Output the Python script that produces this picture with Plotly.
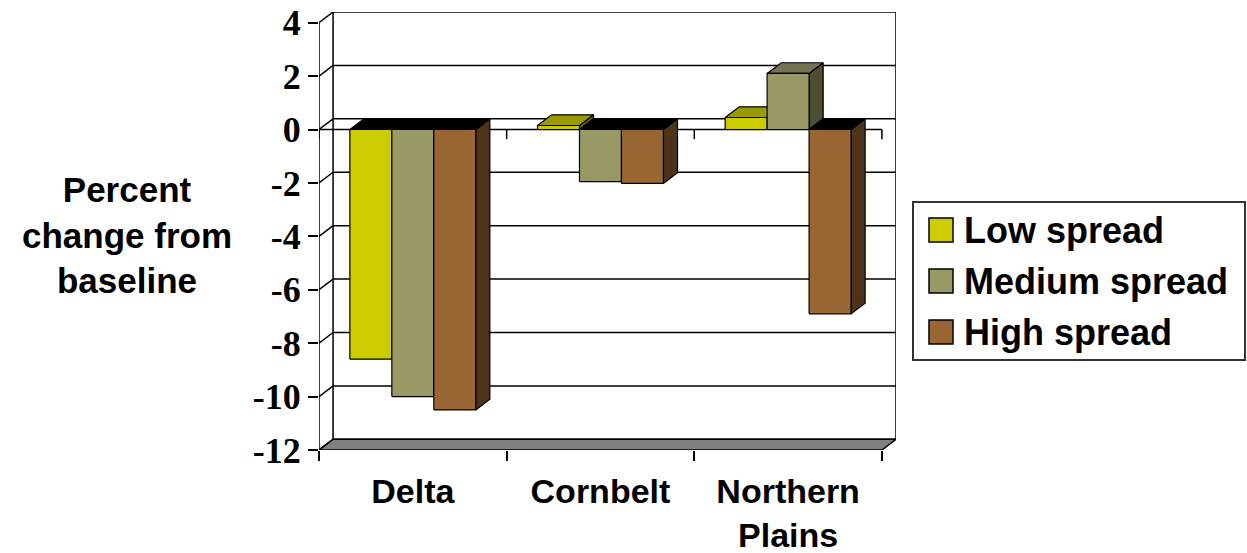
import plotly.graph_objects as go

# ---------------- data ----------------
categories = ["Delta", "Cornbelt", "Northern<br>Plains"]
series_names = ["Low spread", "Medium spread", "High spread"]
low_spread = [-8.6, 0.15, 0.45]
medium_spread = [-10.0, -1.95, 2.1]
high_spread = [-10.5, -2.02, -6.9]
y_tick_values = [4, 2, 0, -2, -4, -6, -8, -10, -12]
y_tick_labels = ["4", "2", "0", "-2", "-4", "-6", "-8", "-10", "-12"]

# ---------------- style ----------------
front_colors = ["#CCCC00", "#999966", "#996633"]
top_colors = ["#999900", "#737350", "#73502A"]
side_colors = ["#666600", "#4D4D33", "#4D3319"]
neg_top_color = "#000000"
floor_color = "#808080"

W, H = 1247, 553
ML, MR, MT, MB = 319, 351, 12, 103
PW, PH = W - ML - MR, H - MT - MB

DX = 0.075   # depth offset (x units)
DY = 0.40    # depth offset (y units)
XMIN, XMAX = -0.5, 2.5
YMIN, YMAX = -12, 4
GROUP_W = 0.671
LW = 1.5

series = [low_spread, medium_spread, high_spread]
ncat = len(categories)
nser = len(series)
bw = GROUP_W / nser

fig = go.Figure()


def poly(xs, ys, color):
    fig.add_trace(go.Scatter(
        x=list(xs) + [xs[0]], y=list(ys) + [ys[0]],
        mode="lines", fill="toself", fillcolor=color,
        line=dict(color="black", width=1.2),
        hoverinfo="skip", showlegend=False))


# bars drawn left to right so that later faces hide earlier side faces
for c in range(ncat):
    for s in range(nser):
        v = series[s][c]
        xl = c - GROUP_W / 2 + s * bw
        xr = xl + bw
        lo, hi = min(v, 0), max(v, 0)
        # side face
        poly([xr, xr, xr + DX, xr + DX], [lo, hi, hi + DY, lo + DY], side_colors[s])
        # top face
        tc = top_colors[s] if v > 0 else neg_top_color
        poly([xl, xr, xr + DX, xl + DX], [hi, hi, hi + DY, hi + DY], tc)
        # front face
        poly([xl, xr, xr, xl], [lo, lo, hi, hi], front_colors[s])

shapes = []
# back wall
shapes.append(dict(type="rect", xref="x", yref="y", x0=XMIN + DX, x1=XMAX + DX,
                   y0=YMIN + DY, y1=YMAX + DY, fillcolor="white",
                   line=dict(color="black", width=LW), layer="below"))
# gridlines and left wall diagonals
for v in y_tick_values:
    if YMIN < v < YMAX:
        shapes.append(dict(type="line", xref="x", yref="y", x0=XMIN + DX, x1=XMAX + DX,
                           y0=v + DY, y1=v + DY, line=dict(color="black", width=LW), layer="below"))
    shapes.append(dict(type="line", xref="x", yref="y", x0=XMIN, x1=XMIN + DX,
                       y0=v, y1=v + DY, line=dict(color="black", width=LW), layer="below"))
# front value axis line
shapes.append(dict(type="line", xref="x", yref="y", x0=XMIN, x1=XMIN, y0=YMIN, y1=YMAX,
                   line=dict(color="black", width=LW), layer="below"))
# floor
shapes.append(dict(type="path", xref="x", yref="y",
                   path=f"M{XMIN},{YMIN} L{XMAX},{YMIN} L{XMAX + DX},{YMIN + DY} L{XMIN + DX},{YMIN + DY} Z",
                   fillcolor=floor_color, line=dict(color="black", width=LW), layer="below"))
# category axis line at zero with tick marks
shapes.append(dict(type="line", xref="x", yref="y", x0=XMIN, x1=XMAX, y0=0, y1=0,
                   line=dict(color="black", width=LW), layer="below"))
bounds = [XMIN + i for i in range(ncat + 1)]
for b in bounds:
    shapes.append(dict(type="line", xref="x", yref="y", x0=b, x1=b, y0=0, y1=-0.36,
                       line=dict(color="black", width=LW), layer="below"))


# ---------------- custom legend ----------------
def px_x(p):
    return (p - ML) / PW


def px_y(p):
    return (H - MB - p) / PH


annotations = []
shapes.append(dict(type="rect", xref="paper", yref="paper",
                   x0=px_x(913), x1=px_x(1245), y0=px_y(360), y1=px_y(202),
                   fillcolor="white", line=dict(color="#333333", width=2)))
item_centers = [230, 281, 332]
for i, name in enumerate(series_names):
    cy = item_centers[i]
    shapes.append(dict(type="rect", xref="paper", yref="paper",
                       x0=px_x(929), x1=px_x(953), y0=px_y(cy + 12), y1=px_y(cy - 12),
                       fillcolor=front_colors[i], line=dict(color="black", width=1.5)))
    annotations.append(dict(xref="paper", yref="paper", x=px_x(962), y=px_y(cy),
                            xanchor="left", yanchor="middle", showarrow=False, text=name,
                            font=dict(family="Liberation Sans, Arial", size=36, color="black", weight="bold")))

# value axis title
annotations.append(dict(xref="paper", yref="paper", x=px_x(127), y=px_y(235),
                        xanchor="center", yanchor="middle", showarrow=False,
                        text="Percent<br>change from<br>baseline", align="center",
                        font=dict(family="Liberation Sans, Arial", size=35, color="black", weight="bold")))

fig.update_layout(
    width=W, height=H,
    margin=dict(l=ML, r=MR, t=MT, b=MB, autoexpand=False),
    paper_bgcolor="white", plot_bgcolor="white",
    showlegend=False,
    shapes=shapes, annotations=annotations,
    xaxis=dict(range=[XMIN, XMAX + DX], tickmode="array", tickvals=list(range(ncat)),
               ticktext=categories, ticks="", showgrid=False, zeroline=False, showline=False,
               automargin=False,
               tickfont=dict(family="Liberation Sans, Arial", size=34, color="black", weight="bold"),
               ticklabelstandoff=18,
               minor=dict(tickmode="array", tickvals=bounds, ticks="outside", ticklen=10,
                          tickwidth=LW, tickcolor="black", showgrid=False),
               fixedrange=True),
    yaxis=dict(range=[YMIN, YMAX + DY], tickmode="array", tickvals=y_tick_values,
               ticktext=y_tick_labels, ticks="outside", ticklen=10, tickwidth=LW, tickcolor="black",
               showgrid=False, zeroline=False, showline=False, automargin=False,
               tickfont=dict(family="Liberation Serif, Times New Roman", size=36, color="black", weight="bold"),
               fixedrange=True),
)

fig.write_html("out.html", config={"displayModeBar": False},
               post_script="document.body.style.margin='0px';document.body.style.overflow='hidden';")
